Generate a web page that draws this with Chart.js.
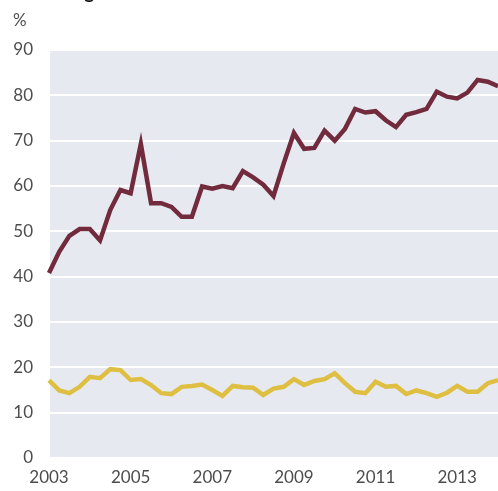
<!DOCTYPE html>
<html lang="en">
<head>
<meta charset="utf-8">
<title>Chart</title>
<script src="https://cdn.jsdelivr.net/npm/chart.js@4.4.0/dist/chart.umd.min.js"></script>
<style>
    html, body { margin: 0; padding: 0; background: #fff; overflow: hidden; }
    #wrap { position: relative; width: 498px; height: 491px; }
</style>
</head>
<body>
<div id="wrap"><canvas id="graph"></canvas></div>

<script>
// Quarters, 2003 Q1 to 2014 Q1
var quarters = [
    '2003Q1','2003Q2','2003Q3','2003Q4','2004Q1','2004Q2','2004Q3','2004Q4',
    '2005Q1','2005Q2','2005Q3','2005Q4','2006Q1','2006Q2','2006Q3','2006Q4',
    '2007Q1','2007Q2','2007Q3','2007Q4','2008Q1','2008Q2','2008Q3','2008Q4',
    '2009Q1','2009Q2','2009Q3','2009Q4','2010Q1','2010Q2','2010Q3','2010Q4',
    '2011Q1','2011Q2','2011Q3','2011Q4','2012Q1','2012Q2','2012Q3','2012Q4',
    '2013Q1','2013Q2','2013Q3','2013Q4','2014Q1'
];
var xTickLabels = ['2003','2005','2007','2009','2011','2013'];
var yTicks = [0, 10, 20, 30, 40, 50, 60, 70, 80, 90];

var upperSeries = [
    40.8, 45.5, 49.0, 50.5, 50.5, 48.0, 54.7, 59.1,
    58.4, 69.3, 56.2, 56.2, 55.4, 53.2, 53.2, 59.9,
    59.4, 60.0, 59.5, 63.3, 61.9, 60.3, 57.8, 65.0,
    71.7, 68.2, 68.4, 72.2, 70.0, 72.6, 77.0, 76.2,
    76.5, 74.5, 73.0, 75.7, 76.3, 77.0, 80.8, 79.7,
    79.3, 80.6, 83.4, 83.0, 82.0
];
var lowerSeries = [
    17.1, 14.9, 14.3, 15.7, 17.9, 17.6, 19.6, 19.4,
    17.2, 17.4, 16.1, 14.3, 14.1, 15.7, 15.9, 16.2,
    15.0, 13.7, 15.9, 15.6, 15.5, 13.9, 15.3, 15.7,
    17.4, 16.1, 17.0, 17.4, 18.7, 16.5, 14.6, 14.3,
    16.8, 15.7, 15.9, 14.1, 14.9, 14.3, 13.5, 14.4,
    15.9, 14.6, 14.6, 16.5, 17.2
];

var PLOT_BG = '#e6eaf0';
var GRID = '#ffffff';
var LABEL = '#4d4d4d';
var FONT = 'Lato, "Open Sans", sans-serif';

// grey plot area, unit label and (cropped) title
var decor = {
    id: 'decor',
    beforeDraw: function(chart) {
        var a = chart.chartArea, c = chart.ctx;
        c.save();
        c.fillStyle = PLOT_BG;
        c.fillRect(a.left, a.top, a.right - a.left, a.bottom - a.top);
        c.restore();
    },
    afterDraw: function(chart) {
        var c = chart.ctx;
        c.save();
        c.fillStyle = LABEL;
        c.font = '17px ' + FONT;
        c.textBaseline = 'middle';
        c.textAlign = 'left';
        c.fillText('%', 13, 21);
        // only the descender of the title shows, as in the cropped original
        c.fillStyle = '#111';
        c.font = 'bold 19px ' + FONT;
        c.textBaseline = 'alphabetic';
        c.fillText('Holdings', 28, -1.5);
        c.restore();
    }
};

function isXTick(i) {
    return xTickLabels.indexOf(quarters[i].slice(0, 4)) !== -1 && quarters[i].slice(4) === 'Q1';
}

var chart = new Chart(document.getElementById('graph'), {
    type: 'line',
    data: {
        labels: quarters,
        datasets: [
            { data: upperSeries, borderColor: '#722b3d', borderWidth: 4.5 },
            { data: lowerSeries, borderColor: '#dfbf42', borderWidth: 4.5 }
        ]
    },
    options: {
        responsive: true,
        maintainAspectRatio: false,
        animation: false,
        layout: { padding: { top: 50, right: 0, left: 0, bottom: 0 } },
        elements: {
            line: { tension: 0, borderCapStyle: 'butt', borderJoinStyle: 'miter', fill: false },
            point: { radius: 0, hoverRadius: 0 }
        },
        plugins: {
            legend: { display: false },
            tooltip: { enabled: false },
            title: { display: false }
        },
        scales: {
            x: {
                type: 'category',
                offset: false,
                border: { display: false },
                grid: {
                    drawTicks: false,
                    lineWidth: 2,
                    color: function(ctx) { return isXTick(ctx.index) ? GRID : 'rgba(0,0,0,0)'; }
                },
                ticks: {
                    autoSkip: false,
                    maxRotation: 0,
                    padding: 9,
                    color: LABEL,
                    font: { family: FONT, size: 17 },
                    callback: function(v, i) { return isXTick(i) ? quarters[i].slice(0, 4) : null; }
                },
                afterFit: function(s) { s.height = 33; }
            },
            y: {
                min: 0,
                max: 90,
                border: { display: false },
                grid: { drawTicks: false, lineWidth: 2, color: GRID },
                afterBuildTicks: function(s) { s.ticks = yTicks.map(function(v) { return { value: v }; }); },
                ticks: {
                    padding: 16,
                    color: LABEL,
                    font: { family: FONT, size: 17 }
                },
                afterFit: function(s) { s.width = 49; }
            }
        }
    },
    plugins: [decor]
});
</script>
</body>
</html>
